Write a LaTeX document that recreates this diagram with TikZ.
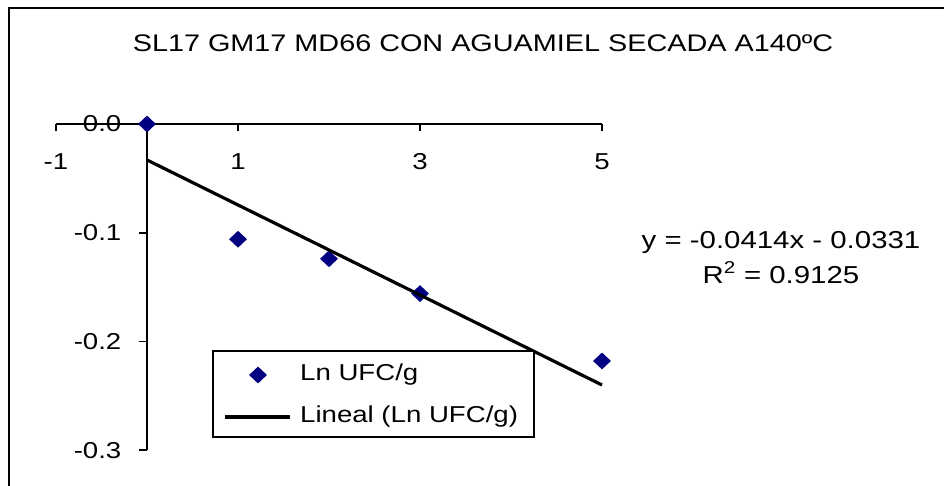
\documentclass[tikz,border=0pt]{standalone}
\usepackage{fontspec}
\setmainfont{Liberation Sans}[FakeStretch=1.2]
\usepackage{tikz}
\usetikzlibrary{shapes.geometric}
\usetikzlibrary{positioning}

\definecolor{ptblue}{RGB}{0,0,128}
\tikzset{
    lbl/.style={font=\fontsize{23}{27}\selectfont, inner sep=0pt},
    eqlbl/.style={font=\fontsize{24.5}{29}\selectfont, inner sep=0pt, anchor=base},
    pt/.style={diamond, fill=ptblue, inner sep=0pt, minimum width=18pt, minimum height=17pt},
    ax/.style={line width=1.6pt},
}

\begin{document}
\begin{tikzpicture}[x=1pt,y=-1pt]
            \useasboundingbox (0,0) rectangle (944,486);
            \draw[line width=2pt] (9,500) -- (9,8) -- (960,8);
            \node[lbl, font=\fontsize{24}{28}\selectfont] (title) at (483,43) {SL17 GM17 MD66 CON AGUAMIEL SECADA A140ºC};
            \begin{scope}[shift={(147,124)}, x=91pt, y=1087pt]
                % labels first, axes on top
                \foreach \v in {-1,1,3,5}
                    \node[lbl] (xl\v) at (\v,-0.035) {\v};
                \foreach \v/\t in {0/0.0,-0.1/-0.1,-0.2/-0.2,-0.3/-0.3}
                    \node[lbl, anchor=east] (yl\t) at (-0.28,\v) {\t};
                \draw[ax] (-1,0) -- (5,0);
                \draw[ax] (0,0) -- (0,-0.3);
                \foreach \v in {-1,1,3,5}
                    \draw[ax] (\v,0) -- ++(0,-7pt);
                \foreach \v in {-0.1,-0.2,-0.3}
                    \draw[ax] (0,\v) -- ++(-8pt,0);
                % data
                \node[pt] (p0) at (0,0) {};
                \node[pt] (p1) at (1,-0.106) {};
                \node[pt] (p2) at (2,-0.124) {};
                \node[pt] (p3) at (3,-0.156) {};
                \node[pt] (p5) at (5,-0.218) {};
                \coordinate (t0) at (0,-0.0331);
                \coordinate (t5) at (5,-0.2401);
                \draw[line width=3.2pt] (t0) -- (t5);
            \end{scope}
            % legend
            \node[draw, line width=1.6pt, fill=white, minimum width=321pt, minimum height=86pt, inner sep=0pt] (leg) at (373.5,394) {};
            \node[pt] (lgpt) at (258,375) {};
            \coordinate (lga) at (225,417);
            \coordinate (lgb) at (290,417);
            \draw[line width=3.2pt] (lga) -- (lgb);
            \node[lbl, anchor=west] (lgt1) at (300,375) {Ln UFC/g};
            \node[lbl, anchor=west] (lgt2) at (300,417) {Lineal (Ln UFC/g)};
            % fit
            \node[eqlbl] (eq) at (781,248) {y = -0.0414x - 0.0331};
            \node[eqlbl] (rsq) at (781,283) {R\textsuperscript{2} = 0.9125};
        \end{tikzpicture}
\end{document}
